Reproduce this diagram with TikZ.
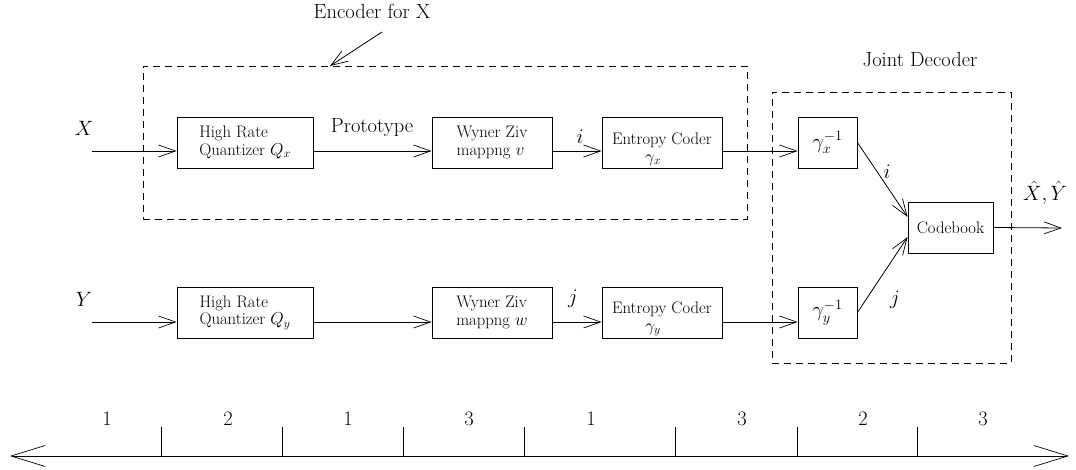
\documentclass[tikz,border=0pt]{standalone}
\usetikzlibrary{arrows.meta,calc}
\newcommand{\lblfont}{\fontsize{20.5}{24}\selectfont}
\newcommand{\boxfont}{\fontsize{16.7}{17.5}\selectfont}
\tikzset{
  blk/.style={draw, line width=0.8pt, inner sep=0pt, font=\boxfont},
  dbox/.style={draw, line width=0.8pt, dash pattern=on 7pt off 5pt, inner sep=0pt},
  lbl/.style={font=\lblfont, inner sep=0pt},
  arr/.style={line width=0.8pt, -{Straight Barb[length=17pt,width=12pt,line width=0.7pt]}},
  bigarr/.style={line width=0.8pt, {Straight Barb[length=34pt,width=21pt,line width=0.7pt]}-{Straight Barb[length=34pt,width=21pt,line width=0.7pt]}},
  tick/.style={line width=0.7pt}
}
\begin{document}
\begin{tikzpicture}[x=1pt,y=-1pt]
\useasboundingbox (0,0) rectangle (1076,470);
% dashed groups
\node[dbox, minimum width=604pt, minimum height=153pt] (encbox) at (445,142.5) {};
\node[dbox, minimum width=239pt, minimum height=271pt] (decbox) at (891.5,227.5) {};
% blocks X row
\node[blk, minimum width=136pt, minimum height=51pt, align=left] (qx) at (245,142.5) {High Rate\\Quantizer $Q_x$};
\node[blk, minimum width=120pt, minimum height=51pt, align=left] (wx) at (492,142.5) {Wyner Ziv\\mappng $v$};
\node[blk, minimum width=120pt, minimum height=51pt, align=center] (ex) at (662,142.5) {\rule{0pt}{25pt}Entropy Coder\\\hspace*{-18pt}$\gamma_x$};
\node[blk, minimum width=59pt, minimum height=51pt, font=\lblfont] (gx) at (827.5,142.5) {$\gamma_x^{-1}$};
% blocks Y row
\node[blk, minimum width=136pt, minimum height=51pt, align=left] (qy) at (245,312.5) {High Rate\\Quantizer $Q_y$};
\node[blk, minimum width=120pt, minimum height=51pt, align=left] (wy) at (492,312.5) {Wyner Ziv\\mappng $w$};
\node[blk, minimum width=120pt, minimum height=51pt, align=center] (ey) at (662,312.5) {\rule{0pt}{25pt}Entropy Coder\\\hspace*{-18pt}$\gamma_y$};
\node[blk, minimum width=59pt, minimum height=51pt, font=\lblfont] (gy) at (827.5,312.5) {$\gamma_y^{-1}$};
% codebook
\node[blk, minimum width=85pt, minimum height=51pt] (cb) at (950.5,227.5) {Codebook};
% labels
\node[lbl] (enclbl) at (372,11) {Encoder for X};
\node[lbl] (declbl) at (920,60) {Joint Decoder};
\node[lbl] (xlbl) at (84,128) {$X$};
\node[lbl] (ylbl) at (84,299) {$Y$};
\node[lbl] (proto) at (372,128) {Prototype};
\node[lbl] (ilbl) at (580,137) {$i$};
\node[lbl] (jlbl) at (573,299) {$j$};
\node[lbl] (idlbl) at (887,172) {$i$};
\node[lbl] (jdlbl) at (895,300) {$j$};
\node[lbl] (outlbl) at (1045,193) {$\hat{X}{,}\,\hat{Y}$};
% free ends
\coordinate (xin) at (92,151);
\coordinate (yin) at (92,322);
\coordinate (xout) at (1062,228);
\coordinate (encA) at (382,32);
\coordinate (encB) at (330,66);
% connectors X row
\draw[arr] (xin) -- (qx.west |- xin);
\draw[arr] (qx.east |- xin) -- (wx.west |- xin);
\draw[arr] (wx.east |- xin) -- (ex.west |- xin);
\draw[arr] (ex.east |- xin) -- (gx.west |- xin);
% connectors Y row
\draw[arr] (yin) -- (qy.west |- yin);
\draw[arr] (qy.east |- yin) -- (wy.west |- yin);
\draw[arr] (wy.east |- yin) -- (ey.west |- yin);
\draw[arr] (ey.east |- yin) -- (gy.west |- yin);
% decoder
\draw[arr] (gx.east) -- ($(cb.west)+(0,-10.5)$);
\draw[arr] (gy.east) -- ($(cb.west)+(0,9.5)$);
\draw[arr] (cb.east) -- (xout);
% encoder label arrow
\draw[arr] (encA) -- (encB);
% ruler
\coordinate (rl) at (10,456);
\coordinate (rr) at (1069,456);
\draw[bigarr] (rl) -- (rr);
\foreach \x/\n in {161/t1,282/t2,403/t3,524/t4,675/t5,797/t6,917/t7}{
  \coordinate (\n) at (\x,456);
  \draw[tick] (\n) -- ++(0,-29);
}
\foreach \x/\v/\n in {107/1/n1,228/2/n2,348/1/n3,469/3/n4,591/1/n5,742/3/n6,863/2/n7,983/3/n8}{
  \node[lbl] (\n) at (\x,419) {\v};
}
\end{tikzpicture}
\end{document}
